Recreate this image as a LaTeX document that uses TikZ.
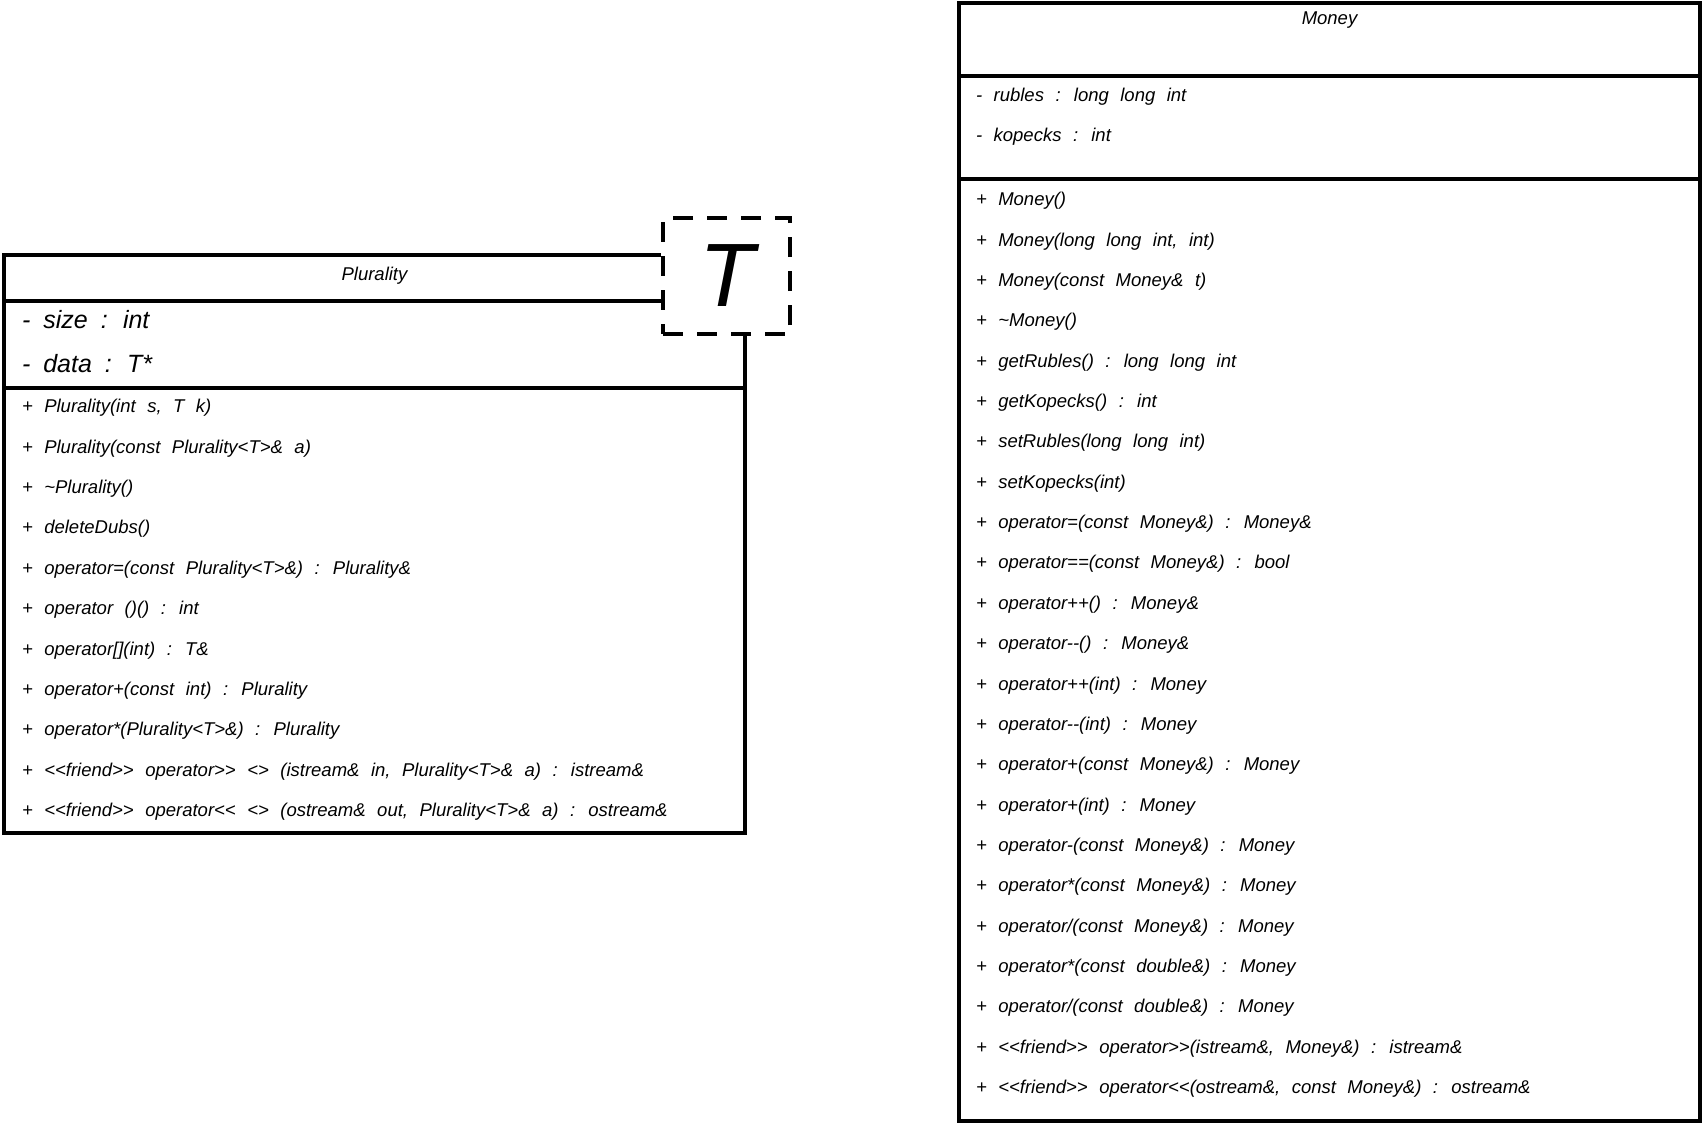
\documentclass[tikz,border=0pt]{standalone}
\usepackage{fontspec}
\newfontfamily\umlfont{Liberation Sans}

\begin{document}
\begin{tikzpicture}[x=1pt, y=-1pt, line width=4pt,
    member/.style ={anchor=west, inner sep=0pt, yshift=-2pt, font={\umlfont\itshape\fontsize{18.5}{20}\selectfont\spaceskip=11.5pt\relax}},
    field/.style ={anchor=west, inner sep=0pt, yshift=-1pt, font={\umlfont\itshape\fontsize{25}{28}\selectfont\spaceskip=13pt\relax}},
    classname/.style ={inner sep=0pt, font=\umlfont\itshape\fontsize{18.5}{20}\selectfont},
    template/.style ={draw, dash pattern=on 20pt off 14pt, minimum width=127pt, minimum height=116pt, inner sep=0pt, font=\umlfont\itshape\fontsize{90}{90}\selectfont}]
   \useasboundingbox (0,0) rectangle (1703,1125);

   % Plurality
   \node[template] (T) at (726.5,276) {T};
   \draw (T.west |- 0,255) -- (4,255) -- (4,833) -- (745,833) -- (745,334);
   \draw (4,301) -- (T.west |- 0,301);
   \draw (4,388) -- (745,388);

   \node[classname] (PN) at (374.5,276) {Plurality};
   \node[field] (P1) at (20,319) {- size : int};
   \node[field] (P2) at (20,363) {- data : T*};
   \node[member] (PM1) at (20,406) {+ Plurality(int s, T k)};
   \node[member] (PM2) at (20,446.4) {+ Plurality(const Plurality<T>\& a)};
   \node[member] (PM3) at (20,486.8) {+ \textasciitilde Plurality()};
   \node[member] (PM4) at (20,527.2) {+ deleteDubs()};
   \node[member] (PM5) at (20,567.6) {+ operator=(const Plurality<T>\&) : Plurality\&};
   \node[member] (PM6) at (20,608) {+ operator ()() : int};
   \node[member] (PM7) at (20,648.4) {+ operator[](int) : T\&};
   \node[member] (PM8) at (20,688.8) {+ operator+(const int) : Plurality};
   \node[member] (PM9) at (20,729.2) {+ operator*(Plurality<T>\&) : Plurality};
   \node[member] (PM10) at (20,769.6) {+ <<friend>> operator>> <> (istream\& in, Plurality<T>\& a) : istream\&};
   \node[member] (PM11) at (20,810) {+ <<friend>> operator<< <> (ostream\& out, Plurality<T>\& a) : ostream\&};

   % Money
   \draw (959,3) rectangle (1700,1121);
   \draw (959,76) -- (1700,76);
   \draw (959,179) -- (1700,179);

   \node[classname] (MN) at (1329.5,20) {Money};
   \node[member] (M1) at (974,94.5) {- rubles : long long int};
   \node[member] (M2) at (974,135) {- kopecks : int};
   \node[member] (MM1) at (974,199) {+ Money()};
   \node[member] (MM2) at (974,239.4) {+ Money(long long int, int)};
   \node[member] (MM3) at (974,279.7) {+ Money(const Money\& t)};
   \node[member] (MM4) at (974,320.1) {+ \textasciitilde Money()};
   \node[member] (MM5) at (974,360.4) {+ getRubles() : long long int};
   \node[member] (MM6) at (974,400.8) {+ getKopecks() : int};
   \node[member] (MM7) at (974,441.2) {+ setRubles(long long int)};
   \node[member] (MM8) at (974,481.5) {+ setKopecks(int)};
   \node[member] (MM9) at (974,521.9) {+ operator=(const Money\&) : Money\&};
   \node[member] (MM10) at (974,562.2) {+ operator==(const Money\&) : bool};
   \node[member] (MM11) at (974,602.6) {+ operator++() : Money\&};
   \node[member] (MM12) at (974,643) {+ operator--() : Money\&};
   \node[member] (MM13) at (974,683.3) {+ operator++(int) : Money};
   \node[member] (MM14) at (974,723.7) {+ operator--(int) : Money};
   \node[member] (MM15) at (974,764) {+ operator+(const Money\&) : Money};
   \node[member] (MM16) at (974,804.4) {+ operator+(int) : Money};
   \node[member] (MM17) at (974,844.8) {+ operator-(const Money\&) : Money};
   \node[member] (MM18) at (974,885.1) {+ operator*(const Money\&) : Money};
   \node[member] (MM19) at (974,925.5) {+ operator/(const Money\&) : Money};
   \node[member] (MM20) at (974,965.8) {+ operator*(const double\&) : Money};
   \node[member] (MM21) at (974,1006.2) {+ operator/(const double\&) : Money};
   \node[member] (MM22) at (974,1046.6) {+ <<friend>> operator>>(istream\&, Money\&) : istream\&};
   \node[member] (MM23) at (974,1086.9) {+ <<friend>> operator<<(ostream\&, const Money\&) : ostream\&};
 \end{tikzpicture}
\end{document}
